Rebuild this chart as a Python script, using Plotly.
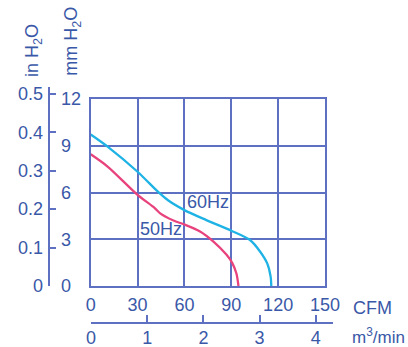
import plotly.graph_objects as go

# ---- data ----
cfm_60 = [0, 11, 30, 43, 49.5, 60, 74, 90, 102, 108.5, 113, 115.2, 115.6]
mm_60 = [9.72, 8.93, 7.33, 6.05, 5.5, 4.87, 4.23, 3.55, 2.95, 2.2, 1.45, 0.6, 0]
cfm_50 = [0, 11, 30, 41, 44.5, 53, 60, 70, 78.6, 87, 90.5, 93.3, 94.6]
mm_50 = [8.45, 7.65, 5.85, 5.0, 4.66, 4.2, 3.95, 3.5, 2.85, 2.0, 1.5, 0.8, 0]

cfm_ticks = [0, 30, 60, 90, 120, 150]
mm_ticks = [0, 3, 6, 9, 12]
in_ticks = [0, 0.1, 0.2, 0.3, 0.4, 0.5]
in_tick_text = ["0", "0.1", "0.2", "0.3", "0.4", "0.5"]
m3_ticks = [0, 1, 2, 3, 4]

W, H = 408, 347
TXT = "#3a58a8"
GRID = "#5e70c2"
C60 = "#1fb3e5"
C50 = "#e8437d"
FONT = "Liberation Sans, Arial, sans-serif"


def px(x):
    return x / W


def py(y):
    return 1 - y / H


fig = go.Figure()
fig.add_trace(go.Scatter(x=cfm_60, y=mm_60, mode="lines", line=dict(color=C60, width=2.3, shape="spline", smoothing=0.8),
                         xaxis="x", yaxis="y", showlegend=False, hoverinfo="skip"))
fig.add_trace(go.Scatter(x=cfm_50, y=mm_50, mode="lines", line=dict(color=C50, width=2.3, shape="spline", smoothing=0.8),
                         xaxis="x", yaxis="y", showlegend=False, hoverinfo="skip"))
# empty traces so the auxiliary axes are drawn
fig.add_trace(go.Scatter(x=[], y=[], xaxis="x", yaxis="y3", showlegend=False))
fig.add_trace(go.Scatter(x=[], y=[], xaxis="x2", yaxis="y2", showlegend=False))

tickfont = dict(family=FONT, size=18, color=TXT)

fig.update_layout(
    template="none",
    width=W, height=H,
    margin=dict(l=0, r=0, t=0, b=0, autoexpand=False),
    paper_bgcolor="white", plot_bgcolor="rgba(0,0,0,0)",
    font=dict(family=FONT, size=18, color=TXT),
    xaxis=dict(domain=[px(90.7), px(325)], range=[0, 150], tickvals=cfm_ticks, automargin=False,
               showgrid=True, gridcolor=GRID, gridwidth=1.5, zeroline=False,
               showline=True, mirror=True, linecolor=GRID, linewidth=1.5,
               ticks="", tickfont=tickfont, ticklabelstandoff=2, anchor="y"),
    yaxis=dict(domain=[py(286), py(99)], range=[0, 12], tickvals=mm_ticks, automargin=False,
               showgrid=True, gridcolor=GRID, gridwidth=1.5, zeroline=False,
               showline=True, mirror=True, linecolor=GRID, linewidth=1.5,
               ticks="", showticklabels=False, anchor="x"),
    yaxis3=dict(overlaying="y", anchor="free", position=px(60), side="right", automargin=False,
                range=[0, 12], tickvals=mm_ticks, showgrid=False, zeroline=False,
                showline=False, ticks="", tickfont=tickfont, ticklabelstandoff=0),
    yaxis2=dict(domain=[py(286), py(87)], anchor="free", position=px(49.3), side="left", automargin=False,
                range=[0, 0.518], tickvals=in_ticks, ticktext=in_tick_text,
                showgrid=False, zeroline=False, showline=True, linecolor=GRID, linewidth=1.5,
                ticks="inside", ticklen=6, tickwidth=1.5, tickcolor=GRID,
                tickfont=tickfont, ticklabelstandoff=2),
    xaxis2=dict(domain=[px(90.9), px(333.3)], anchor="free", position=py(322.7), side="bottom", automargin=False,
                range=[0, 4.31], tickvals=m3_ticks,
                showgrid=False, zeroline=False, showline=True, linecolor=GRID, linewidth=1.5,
                ticks="inside", ticklen=7, tickwidth=1.5, tickcolor=GRID,
                tickfont=tickfont, ticklabelstandoff=-1),
)

ann = [
    dict(text="in H<sub>2</sub>O", x=px(33), y=py(51), textangle=-90),
    dict(text="mm H<sub>2</sub>O", x=px(73), y=py(41.7), textangle=-90),
]
for a in ann:
    fig.add_annotation(xref="paper", yref="paper", showarrow=False, xanchor="center", yanchor="middle",
                       font=dict(family=FONT, size=18, color=TXT), **a)
fig.add_annotation(text="CFM", xref="paper", yref="paper", x=px(350.7), y=py(308), xanchor="left", yanchor="middle",
                   showarrow=False, font=dict(family=FONT, size=18, color=TXT))
fig.add_annotation(text="m<sup>3</sup>/min", xref="paper", yref="paper", x=px(350), y=py(336), xanchor="left", yanchor="middle",
                   showarrow=False, font=dict(family=FONT, size=17, color=TXT))
fig.add_annotation(text="60Hz", xref="x", yref="y", x=75.2, y=5.4, showarrow=False,
                   font=dict(family=FONT, size=18, color=TXT))
fig.add_annotation(text="50Hz", xref="x", yref="y", x=44.7, y=3.65, showarrow=False,
                   font=dict(family=FONT, size=18, color=TXT))

fig.write_html("out.html", config={"displayModeBar": False},
               post_script="document.body.style.margin='0';document.body.style.overflow='hidden';")
